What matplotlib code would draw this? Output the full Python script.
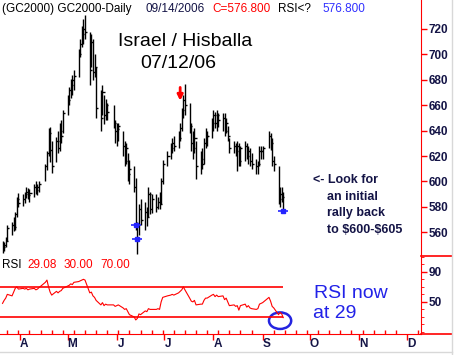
import pandas as pd
import numpy as np
import matplotlib
matplotlib.use('Agg')
import matplotlib.pyplot as plt
import matplotlib.dates as mdates
from matplotlib.patches import Ellipse
from matplotlib.lines import Line2D

plt.rcParams['font.family'] = ['Liberation Sans', 'DejaVu Sans']

holidays = ['2006-04-14', '2006-05-29', '2006-07-04', '2006-09-04']
dates = pd.bdate_range('2006-03-21', '2006-09-14', freq='C', holidays=holidays)

highs = [553, 552, 556, 566, 568, 572, 576, 588, 591,
         590, 592, 596, 595, 594, 598, 600, 598, 600, 614, 624, 642, 643, 632, 635, 640, 646, 648, 656,
         668, 674, 681, 684, 688, 704, 712, 722, 728, 731, 718, 716, 712, 700, 690, 672, 676, 668, 665, 662, 660, 648,
         646, 646, 640, 632, 630, 622, 617, 612, 603, 568, 582, 586, 584, 580, 596, 592, 590, 590, 588, 592, 603, 617,
         624, 630, 634, 636, 640, 646, 658, 668, 677, 662, 646, 640, 642, 632, 624, 626, 634, 642, 640, 650,
         656, 655, 656, 654, 654, 654, 650, 644, 634, 632, 630, 632, 630, 628, 632, 630, 628, 626, 622, 618, 616, 628, 628,
         628, 640, 638, 634, 620, 612, 596, 596, 592]
lows = [544, 545, 548, 553, 558, 561, 562, 572, 580,
        581, 583, 587, 586, 584, 588, 590, 589, 592, 600, 609, 620, 615, 607, 615, 622, 624, 630, 638,
        652, 660, 666, 668, 672, 682, 698, 706, 708, 712, 676, 690, 680, 682, 650, 640, 652, 645, 648, 648, 642, 630,
        628, 632, 620, 612, 614, 600, 598, 592, 562, 543, 558, 566, 562, 565, 572, 574, 575, 576, 578, 578, 582, 598,
        612, 618, 622, 624, 626, 632, 640, 650, 652, 638, 624, 618, 622, 602, 606, 610, 614, 626, 628, 634,
        640, 642, 640, 643, 640, 636, 638, 632, 622, 622, 620, 608, 612, 612, 616, 618, 614, 612, 610, 606, 606, 612, 618,
        618, 626, 625, 612, 608, 582, 580, 584, 575]
closes = [548, 550, 553, 563, 566, 564, 574, 586, 583,
          586, 590, 592, 589, 591, 596, 593, 596, 598, 612, 622, 638, 625, 612, 632, 626, 640, 636, 654,
          664, 672, 676, 680, 683, 700, 708, 716, 720, 718, 688, 710, 686, 690, 658, 650, 670, 652, 660, 655, 646, 640,
          641, 644, 628, 616, 626, 606, 610, 596, 566, 555, 578, 570, 576, 572, 590, 578, 586, 580, 584, 582, 600, 614,
          620, 626, 630, 628, 634, 642, 656, 664, 660, 644, 630, 626, 634, 612, 618, 614, 630, 636, 636, 646,
          652, 646, 652, 648, 650, 640, 646, 636, 626, 628, 624, 628, 616, 626, 628, 620, 624, 616, 614, 612, 614, 624, 624,
          626, 636, 630, 616, 614, 586, 590, 588, 576.8]
rsi = [48, 52, 55, 60, 58, 63, 68, 70, 67,
       68, 67, 68, 66, 67, 68, 66, 67, 69, 76, 79, 70, 63, 59, 64, 62, 64, 65, 68,
       71, 72, 74, 73, 76, 77, 78, 79, 80, 79, 62, 63, 58, 56, 52, 46, 49, 45, 47, 46, 46, 44,
       45, 46, 42, 40, 41, 37, 33, 30, 26, 28, 34, 33, 38, 37, 41, 40, 40, 40, 41, 40, 50, 56,
       58, 59, 60, 59, 62, 64, 66, 70, 66, 55, 51, 50, 52, 46, 47, 47, 52, 55, 55, 59,
       60, 57, 59, 57, 58, 53, 55, 50, 45, 46, 44, 45, 39, 45, 47, 43, 45, 42, 41, 40, 41, 47, 48,
       49, 56, 51, 44, 42, 33, 36, 34, 29.08]

price_ticks = [560, 580, 600, 620, 640, 660, 680, 700, 720]
month_labels = ['A', 'M', 'J', 'J', 'A', 'S', 'O', 'N', 'D']
month_starts = pd.date_range('2006-04-01', '2006-12-01', freq='MS')
blue_marks = {'2006-06-13': 566, '2006-06-14': 555, '2006-09-14': 576.8}

W, H = 455, 355
navy = '#141446'
red = '#ff0000'

fig = plt.figure(figsize=(W / 100, H / 100), dpi=100)
ax = fig.add_axes([0, 1 - 256 / H, 421 / W, 256 / H])
ax2 = fig.add_axes([0, 1 - 334 / H, 421 / W, 78 / H], sharex=ax)

x = mdates.date2num(dates)
ax.vlines(x, lows, highs, color='black', lw=1.0)
ax.hlines(closes, x, x + 1.3, color='black', lw=1.0)

for d, p in blue_marks.items():
    ax.plot(mdates.date2num(pd.Timestamp(d)), p, 's', color='#2424ff', ms=3.5)
    ax.plot(mdates.date2num(pd.Timestamp(d)), p, '_', color='#2424ff', ms=7, mew=1.2)

xa = mdates.date2num(pd.Timestamp('2006-07-11'))
ax.annotate('', xy=(xa, 663.5), xytext=(xa, 674),
            arrowprops=dict(arrowstyle='-|>', color=red, lw=2, mutation_scale=8,
                            shrinkA=0, shrinkB=0))

x0 = mdates.date2num(pd.Timestamp('2006-04-01')) - 12.6
ax.set_xlim(x0, x0 + 421 / 1.586)
ax.set_ylim(541.3, 742.8)

ax2.plot(x, rsi, color=red, lw=0.8)
ax2.hlines([70, 30], x[0] - 2, x[-1], color=red, lw=1.2)
ax2.set_ylim(7.3, 111)
ax2.add_patch(Ellipse((mdates.date2num(pd.Timestamp('2006-09-12')), 25), 14, 22,
                      fill=False, edgecolor='#2424e0', lw=1.8, clip_on=False))

for a in (ax, ax2):
    a.set_facecolor('white')
    for s in ('left', 'top'):
        a.spines[s].set_visible(False)
    a.spines['right'].set_color(red)
    a.yaxis.tick_right()
    a.tick_params(axis='y', colors=red, length=4, width=1, pad=1.5, labelcolor=navy,
                  labelsize=8.5)
ax.spines['bottom'].set_visible(False)
ax2.spines['bottom'].set_color(red)
ax.set_yticks(price_ticks)
ax.tick_params(axis='x', bottom=False, labelbottom=False)
ax2.set_yticks([50, 90])
ax2.set_yticks(np.arange(10, 111, 10), minor=True)
ax2.tick_params(axis='y', which='minor', colors=red, length=2.5)
for t in ax2.get_yticklabels() + ax.get_yticklabels():
    t.set_fontweight('bold')

ax2.xaxis.set_major_locator(mdates.MonthLocator())
ax2.xaxis.set_minor_locator(mdates.WeekdayLocator(byweekday=mdates.FR))
ax2.tick_params(axis='x', which='major', colors=red, length=4, width=1, direction='out',
                labelbottom=False)
ax2.tick_params(axis='x', which='minor', colors=red, length=3, width=1, direction='in')
for m, lab in zip(month_starts, month_labels):
    ax2.text(mdates.date2num(m) + 2.6, -0.05, lab, transform=ax2.get_xaxis_transform(),
             ha='center', va='top', color=navy, fontsize=8.5, fontweight='bold')

# right-side frame bits
fig.add_artist(Line2D([421 / W, 452 / W], [1 - 256 / H] * 2, color=red, lw=1.2))
fig.add_artist(Line2D([421 / W, 452 / W], [1 - 334 / H] * 2, color=red, lw=1.2))
fig.add_artist(Line2D([452 / W] * 2, [0, 1], color='#d8d8d8', lw=1))
fig.add_artist(Line2D([0, 452 / W], [3 / H] * 2, color='#d8d8d8', lw=1))

def ptext(px, py, s, **kw):
    fig.text(px / W, 1 - py / H, s, va='center', **kw)

ptext(2, 9, '(GC2000) GC2000-Daily', color='black', fontsize=8.5)
ptext(145, 9, '09/14/2006', color=navy, fontsize=8.5)
ptext(212, 9, 'C=576.800', color=red, fontsize=8.5)
ptext(278, 9, 'RSI<?', color='black', fontsize=8.5)
ptext(322, 9, '576.800', color='#3030ff', fontsize=8.5)

fig.text(185 / W, 1 - 41 / H, 'Israel / Hisballa', ha='center', va='center',
         fontsize=14, color='black')
fig.text(178 / W, 1 - 64 / H, '07/12/06', ha='center', va='center',
         fontsize=14, color='black')

ptext(313, 180, '<- Look for', color=navy, fontsize=9, fontweight='bold')
ptext(327, 197, 'an initial', color=navy, fontsize=9, fontweight='bold')
ptext(327, 213, 'rally back', color=navy, fontsize=9, fontweight='bold')
ptext(327, 230, r'to \$600-\$605', color=navy, fontsize=9, fontweight='bold')

ptext(314, 294, 'RSI now', color='#2222e8', fontsize=14)
ptext(313, 314, 'at 29', color='#2222e8', fontsize=14)

ptext(2, 265, 'RSI', color='black', fontsize=8.5)
ptext(27, 265, '29.08', color=red, fontsize=8.5)
ptext(64, 265, '30.00', color=red, fontsize=8.5)
ptext(100, 265, '70.00', color=red, fontsize=8.5)

fig.savefig('out.png', dpi=100, facecolor='white')
